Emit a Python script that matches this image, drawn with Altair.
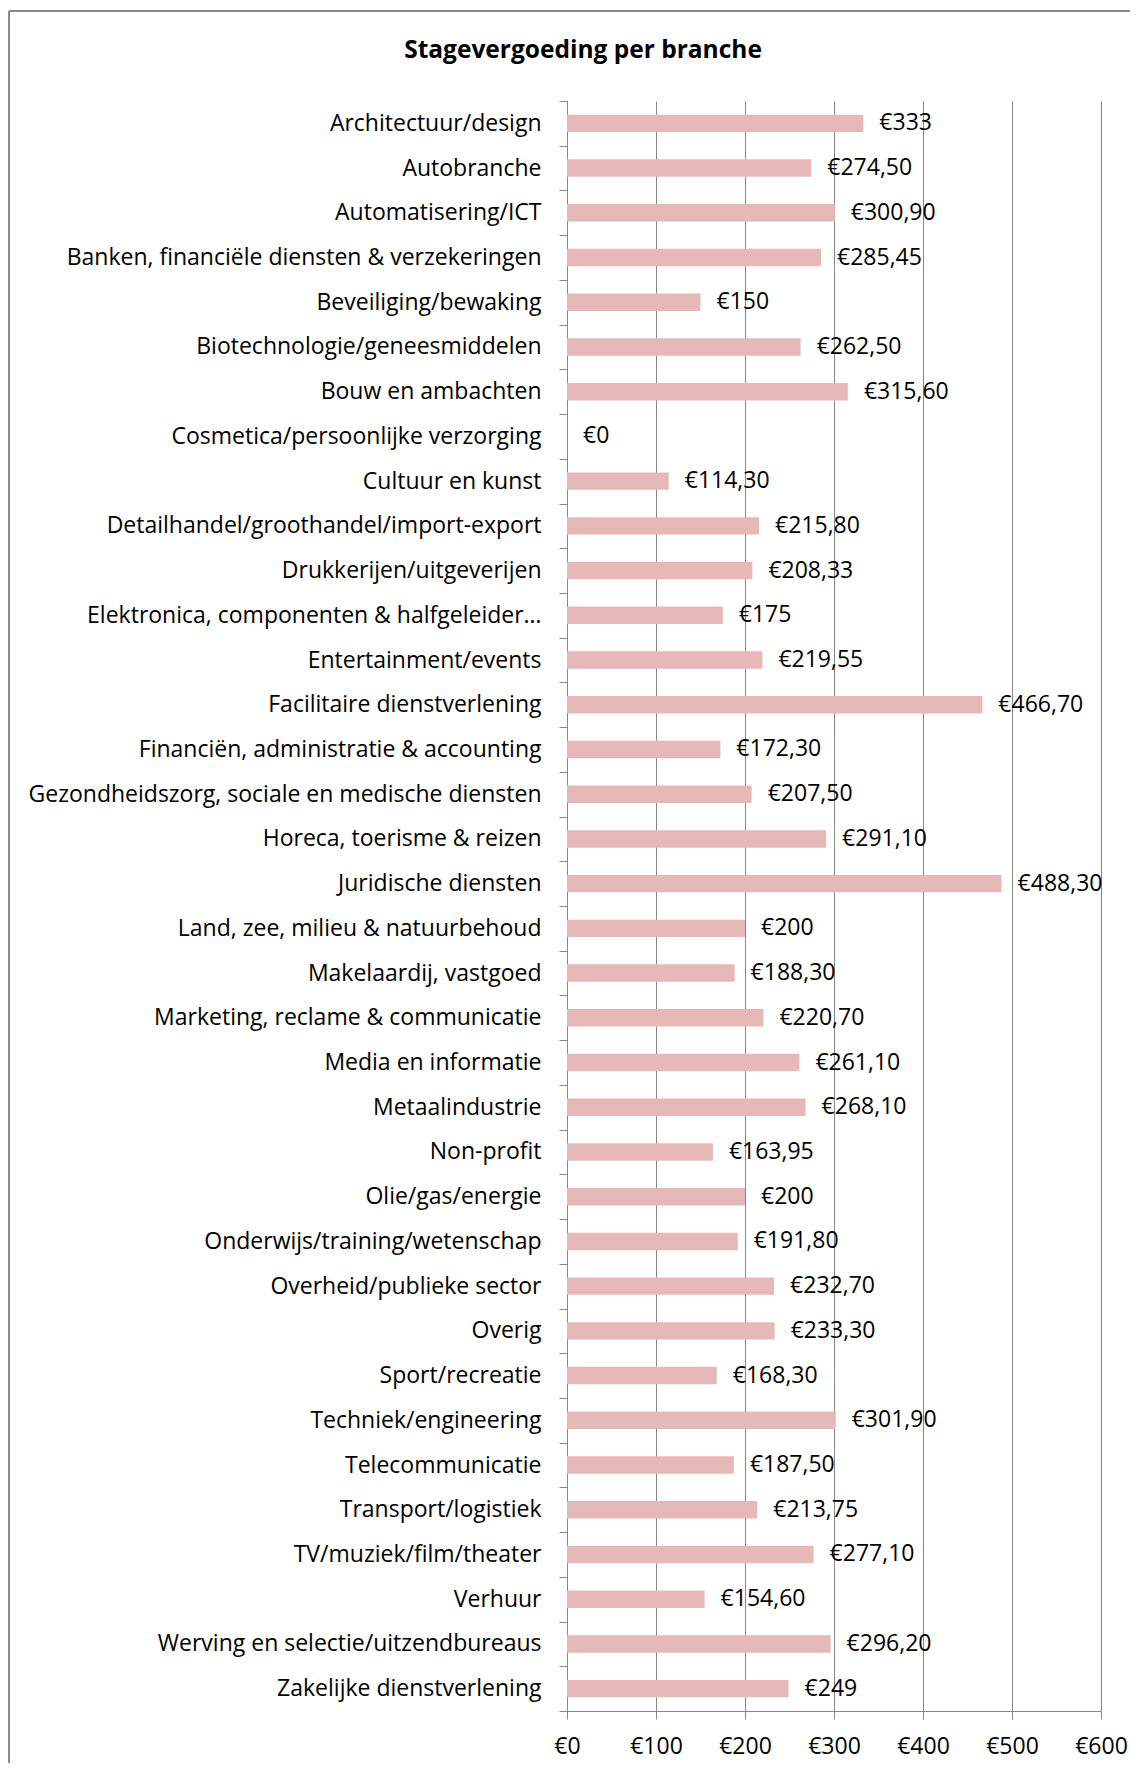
import altair as alt
import pandas as pd

categories = [
    "Architectuur/design",
    "Autobranche",
    "Automatisering/ICT",
    "Banken, financiële diensten & verzekeringen",
    "Beveiliging/bewaking",
    "Biotechnologie/geneesmiddelen",
    "Bouw en ambachten",
    "Cosmetica/persoonlijke verzorging",
    "Cultuur en kunst",
    "Detailhandel/groothandel/import-export",
    "Drukkerijen/uitgeverijen",
    "Elektronica, componenten & halfgeleider…",
    "Entertainment/events",
    "Facilitaire dienstverlening",
    "Financiën, administratie & accounting",
    "Gezondheidszorg, sociale en medische diensten",
    "Horeca, toerisme & reizen",
    "Juridische diensten",
    "Land, zee, milieu & natuurbehoud",
    "Makelaardij, vastgoed",
    "Marketing, reclame & communicatie",
    "Media en informatie",
    "Metaalindustrie",
    "Non-profit",
    "Olie/gas/energie",
    "Onderwijs/training/wetenschap",
    "Overheid/publieke sector",
    "Overig",
    "Sport/recreatie",
    "Techniek/engineering",
    "Telecommunicatie",
    "Transport/logistiek",
    "TV/muziek/film/theater",
    "Verhuur",
    "Werving en selectie/uitzendbureaus",
    "Zakelijke dienstverlening",
]

values = [
    333, 274.50, 300.90, 285.45, 150, 262.50, 315.60, 0, 114.30, 215.80,
    208.33, 175, 219.55, 466.70, 172.30, 207.50, 291.10, 488.30, 200, 188.30,
    220.70, 261.10, 268.10, 163.95, 200, 191.80, 232.70, 233.30, 168.30, 301.90,
    187.50, 213.75, 277.10, 154.60, 296.20, 249,
]

x_ticks = [0, 100, 200, 300, 400, 500, 600]


def fmt(v):
    if float(v).is_integer():
        return f"€{int(v)}"
    return "€" + f"{v:.2f}".replace(".", ",")


labels = [fmt(v) for v in values]
df = pd.DataFrame({"branche": categories, "waarde": values, "label": labels})

FONT = "Open Sans"
GRID = "#868686"
FS = 23

y_enc = alt.Y(
    "branche:N",
    sort=categories,
    title=None,
    scale=alt.Scale(paddingInner=0, paddingOuter=0),
    axis=alt.Axis(
        labelFont=FONT,
        labelFontSize=FS,
        labelColor="black",
        labelPadding=18,
        labelLimit=0,
        tickSize=8,
        tickColor=GRID,
        domainColor=GRID,
        tickBand="extent",
        grid=False,
    ),
)

x_enc = alt.X(
    "waarde:Q",
    title=None,
    scale=alt.Scale(domain=[0, 600], nice=False),
    axis=alt.Axis(
        values=x_ticks,
        labelExpr="'€' + datum.value",
        labelFont=FONT,
        labelFontSize=FS,
        labelColor="black",
        labelPadding=16,
        labelFlush=False,
        tickSize=8,
        tickColor=GRID,
        domainColor=GRID,
        grid=True,
        gridColor=GRID,
        gridWidth=1,
    ),
)

frame_base = alt.Chart(alt.Data(values=[{}]))
frame_left = frame_base.mark_rule(color="#8a8a8a", strokeWidth=2).encode(
    x=alt.value(-558), y=alt.value(-90), y2=alt.value(1900)
)
frame_top = frame_base.mark_rule(color="#8a8a8a", strokeWidth=2).encode(
    x=alt.value(-558), x2=alt.value(800), y=alt.value(-90)
)

bars = alt.Chart(df).mark_bar(
    color="#E6B9B8", height=alt.RelativeBandSize(0.39)
).encode(x=x_enc, y=y_enc)

text = alt.Chart(df).mark_text(
    align="left", baseline="middle", dx=16, font=FONT, fontSize=FS, color="black"
).encode(
    x=alt.X("waarde:Q"),
    y=alt.Y("branche:N", sort=categories),
    text="label:N",
)

chart = alt.layer(frame_left, frame_top, bars, text).properties(
    width=534,
    height=1610,
    autosize=alt.AutoSizeParams(type="none"),
    padding={"left": 559, "top": 93, "right": 29, "bottom": 52},
    title=alt.TitleParams(
        "Stagevergoeding per branche",
        font=FONT,
        fontSize=24.5,
        fontWeight="bold",
        anchor="middle",
        baseline="alphabetic",
        dx=-251,
        offset=-72,
        color="black",
    ),
).configure_view(strokeWidth=0)

chart.save("out.html", embed_options={"renderer": "svg", "actions": False})
